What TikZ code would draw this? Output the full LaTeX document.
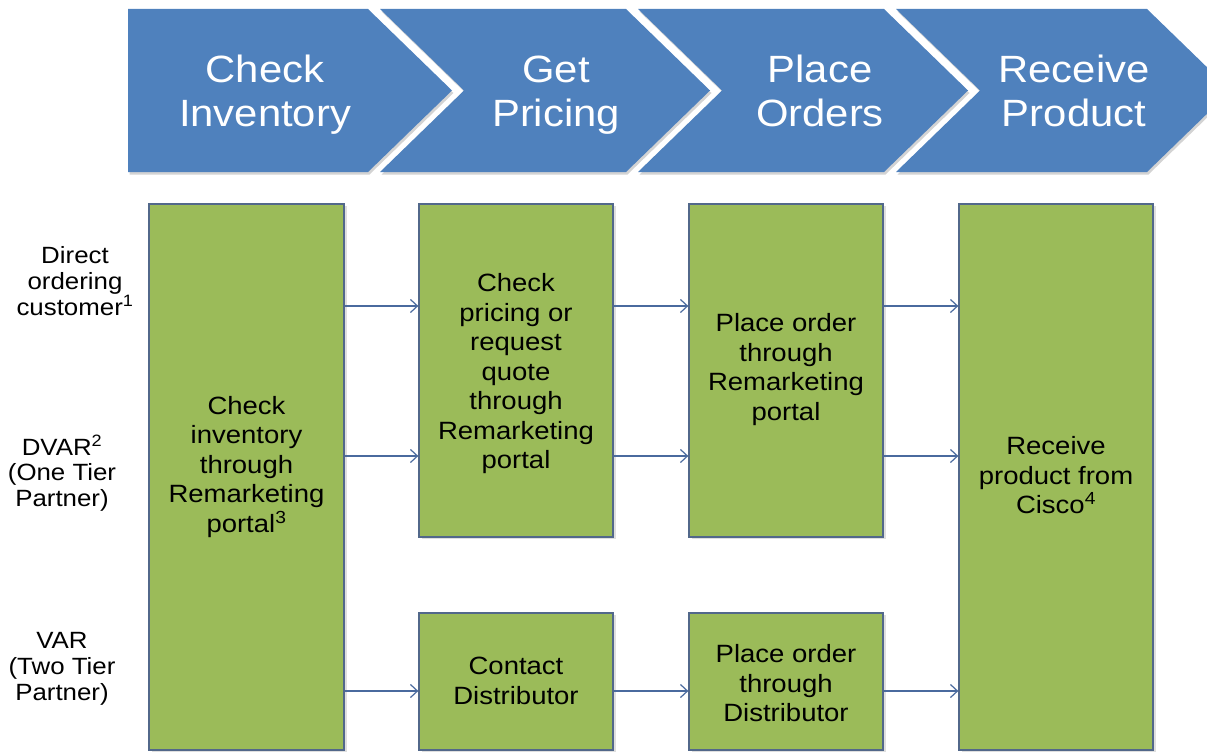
\documentclass[tikz,border=0pt]{standalone}
\usepackage{fontspec}
\setmainfont{Liberation Sans}[FakeStretch=1.1]
\usetikzlibrary{arrows.meta,shadows}
\definecolor{hdrblue}{HTML}{4F81BD}
\definecolor{stepgreen}{HTML}{9BBB59}
\definecolor{edgeslate}{HTML}{52688A}
\definecolor{flowblue}{HTML}{4A6A9E}
\begin{document}
\begin{tikzpicture}[x=1pt,y=-1pt,
  phase/.style={fill=hdrblue, draw=none,
    drop shadow={shadow xshift=1.5pt, shadow yshift=-2.5pt, opacity=0.35}},
  phasetext/.style={text=white, align=center, inner sep=0pt,
    font=\fontsize{38}{44}\selectfont},
  stepbox/.style={fill=stepgreen, draw=edgeslate, line width=1.3pt, inner sep=0pt,
    drop shadow={shadow xshift=3pt, shadow yshift=-2pt, opacity=0.25}},
  steptext/.style={align=center, inner sep=0pt,
    font=\fontsize{25}{29.5}\selectfont},
  rowtext/.style={align=center, inner sep=0pt,
    font=\fontsize{23.5}{25.7}\selectfont},
  flow/.style={draw=flowblue, line width=1.2pt,
    -{Straight Barb[length=7pt,width=13pt,line width=1.2pt]}},
]
\useasboundingbox (0,0) rectangle (1207,752);
\clip (0,0) rectangle (1207,752);

% phase chevrons along the top
\path[phase] (128,9) -- (368,9) -- (452,90.5) -- (368,172) -- (128,172) -- cycle;
\path[phase] (380,9) -- (626,9) -- (710,90.5) -- (626,172) -- (380,172) -- (464,90.5) -- cycle;
\path[phase] (638,9) -- (884,9) -- (968,90.5) -- (884,172) -- (638,172) -- (722,90.5) -- cycle;
\path[phase] (896,9) -- (1147,9) -- (1231,90.5) -- (1147,172) -- (896,172) -- (980,90.5) -- cycle;

\node[phasetext] (h1) at (265,95) {Check\\Inventory};
\node[phasetext] (h2) at (556,95) {Get\\Pricing};
\node[phasetext] (h3) at (820,91) {Place\\Orders};
\node[phasetext] (h4) at (1074,91) {Receive\\Product};

% customer types
\node[rowtext] (t1) at (75,281) {Direct\\ordering\\customer\textsuperscript{1}};
\node[rowtext] (t2) at (62,473) {DVAR\textsuperscript{2}\\(One Tier\\Partner)};
\node[rowtext] (t3) at (62,669) {VAR\\(Two Tier\\Partner)};

% process steps
\node[stepbox, minimum width=195pt, minimum height=546pt] (b1) at (246.5,477) {};
\node[stepbox, minimum width=194pt, minimum height=333pt] (b2) at (516,370.5) {};
\node[stepbox, minimum width=194pt, minimum height=333pt] (b3) at (786,370.5) {};
\node[stepbox, minimum width=194pt, minimum height=546pt] (b4) at (1056,477) {};
\node[stepbox, minimum width=194pt, minimum height=137pt] (b5) at (516,681.5) {};
\node[stepbox, minimum width=194pt, minimum height=137pt] (b6) at (786,681.5) {};

\node[steptext] (s1) at (246.5,467) {Check\\inventory\\through\\Remarketing\\portal\textsuperscript{3}};
\node[steptext] (s2) at (516,374) {Check\\pricing or\\request\\quote\\through\\Remarketing\\portal};
\node[steptext] (s3) at (786,369.5) {Place order\\through\\Remarketing\\portal};
\node[steptext] (s4) at (1056,475.5) {Receive\\product from\\Cisco\textsuperscript{4}};
\node[steptext] (s5) at (516,681) {Contact\\Distributor};
\node[steptext] (s6) at (786,683.5) {Place order\\through\\Distributor};

% flows per customer type
\coordinate (r1) at (0,306);
\coordinate (r2) at (0,456);
\coordinate (r3) at (0,691);

\draw[flow] (b1.east |- r1) -- (b2.west |- r1);
\draw[flow] (b2.east |- r1) -- (b3.west |- r1);
\draw[flow] (b3.east |- r1) -- (b4.west |- r1);

\draw[flow] (b1.east |- r2) -- (b2.west |- r2);
\draw[flow] (b2.east |- r2) -- (b3.west |- r2);
\draw[flow] (b3.east |- r2) -- (b4.west |- r2);

\draw[flow] (b1.east |- r3) -- (b5.west |- r3);
\draw[flow] (b5.east |- r3) -- (b6.west |- r3);
\draw[flow] (b6.east |- r3) -- (b4.west |- r3);
\end{tikzpicture}
\end{document}
